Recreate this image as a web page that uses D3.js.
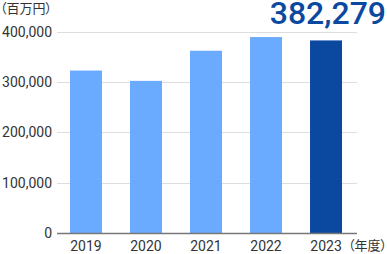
<!DOCTYPE html>
<html><head><meta charset="utf-8">
<script src="https://cdn.jsdelivr.net/npm/d3@7"></script>
<style>body{margin:0;background:#fff;}svg{display:block;}.cjk{font-feature-settings:"palt" 1;}</style>
</head><body>
<script>
const years = ["2019","2020","2021","2022","2023"];
const values = [322500, 302000, 361800, 389000, 382279];
const yTicks = [0,100000,200000,300000,400000];
const highlightLabel = "382,279";
const unitLabel = "（百万円）";
const yearUnit = "（年度）";

const W=387,H=254;
const svg=d3.select("body").append("svg").attr("width",W).attr("height",H);
const x=d3.scaleBand().domain(years).range([56,356]).paddingInner(0.467).paddingOuter(0.233);
const y=d3.scaleLinear().domain([0,400000]).range([233,31.5]);
const font="Roboto, 'Noto Sans CJK JP', sans-serif";

// grid
svg.append("g").selectAll("line").data(yTicks.filter(d=>d>0)).join("line")
 .attr("x1",57).attr("x2",357).attr("y1",d=>Math.round(y(d))+0.5).attr("y2",d=>Math.round(y(d))+0.5)
 .attr("stroke","#dedede").attr("stroke-width",1);
// y labels
svg.append("g").selectAll("text").data(yTicks).join("text")
 .attr("x",52).attr("y",d=>y(d)).attr("dy","0.36em").attr("text-anchor","end")
 .attr("font-family",font).attr("font-size",14).attr("fill","#333")
 .text(d=>d3.format(",")(d));
// bars
svg.append("g").selectAll("rect").data(years).join("rect")
 .attr("x",d=>x(d)).attr("width",x.bandwidth())
 .attr("y",(d,i)=>y(values[i])).attr("height",(d,i)=>y(0)-y(values[i]))
 .attr("fill",(d,i)=>i===years.length-1?"#0b49a1":"#6aaaff");
// axis line
svg.append("line").attr("x1",57).attr("x2",357).attr("y1",233.5).attr("y2",233.5)
 .attr("stroke","#777").attr("stroke-width",1.5);
// x labels
svg.append("g").selectAll("text").data(years).join("text")
 .attr("x",d=>x(d)+x.bandwidth()/2).attr("y",251).attr("text-anchor","middle")
 .attr("font-family",font).attr("font-size",14).attr("fill","#333").text(d=>d);
svg.append("text").attr("class","cjk").attr("x",387).attr("y",250).attr("text-anchor","end")
 .attr("font-family",font).attr("font-size",13).attr("fill","#333").text(yearUnit);
svg.append("text").attr("class","cjk").attr("x",0).attr("y",13).attr("font-family",font).attr("font-size",13)
 .attr("fill","#333").text(unitLabel);
svg.append("text").attr("x",386).attr("y",24).attr("text-anchor","end")
 .attr("font-family",font).attr("font-size",32).attr("font-weight",500).attr("fill","#0b49a1")
 .text(highlightLabel);
</script>
</body></html>
